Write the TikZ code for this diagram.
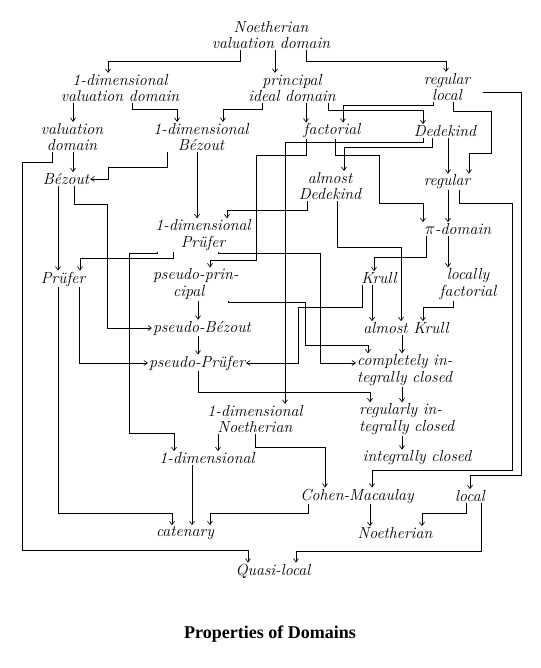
\documentclass[tikz,border=0pt]{standalone}
\usepackage{fontspec}
\newfontfamily\capfont{Liberation Serif}
\usetikzlibrary{arrows.meta}
\begin{document}
\begin{tikzpicture}[x=1pt,y=-1pt,
  lab/.style={font=\itshape\fontsize{16}{16.5}\selectfont, align=center, inner sep=1pt},
  conn/.style={line width=0.65pt, -{Straight Barb[length=3.5pt,width=5pt]}}]
\useasboundingbox[fill=white] (0,0) rectangle (540,668);
% nodes
\node[lab] (nvd) at (271,35) {Noetherian\\valuation domain};
\node[lab] (dvd) at (120,88) {1-dimensional\\valuation domain};
\node[lab] (pid) at (292,88) {principal\\ideal domain};
\node[lab] (rl) at (447,87) {regular\\local};
\node[lab] (vd) at (72,137) {valuation\\domain};
\node[lab] (db) at (201,137) {1-dimensional\\Bézout};
\node[lab] (fac) at (332,131) {factorial};
\node[lab] (ded) at (445,131) {Dedekind};
\node[lab] (bez) at (66,179) {Bézout};
\node[lab] (ad) at (330,186) {almost\\Dedekind};
\node[lab] (reg) at (447,182) {regular};
\node[lab] (dp) at (203,235) {1-dimensional\\Prüfer};
\node[lab] (pi) at (458,229) {$\pi$-domain};
\node[lab] (pru) at (63,279) {Prüfer};
\node[lab,align=left,anchor=west] (pp) at (152,284) {pseudo-prin-\\\hspace*{20pt}cipal};
\node[lab] (krull) at (379,278) {Krull};
\node[lab] (lf) at (468,284) {locally\\factorial};
\node[lab] (pb) at (202,328) {pseudo-Bézout};
\node[lab] (ak) at (406,328) {almost Krull};
\node[lab] (ppr) at (197,363) {pseudo-Prüfer};
\node[lab,align=left,anchor=west] (cic) at (356,370) {completely in-\\tegrally closed};
\node[lab] (dn) at (255,419) {1-dimensional\\Noetherian};
\node[lab,align=left,anchor=west] (ric) at (358,419) {regularly in-\\tegrally closed};
\node[lab] (one) at (207,458) {1-dimensional};
\node[lab] (ic) at (417,458) {integrally closed};
\node[lab] (cm) at (357,496) {Cohen-Macaulay};
\node[lab] (loc) at (470,496) {local};
\node[lab] (cat) at (185,533) {catenary};
\node[lab] (noe) at (395,533) {Noetherian};
\node[lab] (ql) at (273,571) {Quasi-local};
\node (cap) at (270,634) {\capfont\bfseries\fontsize{18}{20}\selectfont Properties of Domains};
% connectors
\draw[conn] (240,0 |- nvd.south) |- (108,61) -- (108,0 |- dvd.north);
\draw[conn] (275,0 |- nvd.south) -- (275,0 |- pid.north);
\draw[conn] (306,0 |- nvd.south) |- (446,61) -- (446,0 |- rl.north);
\draw[conn] (73,0 |- dvd.south) -- (73,0 |- vd.north);
\draw[conn] (132,0 |- dvd.south) |- (177,109) -- (177,0 |- db.north);
\draw[conn] (262,0 |- pid.south) |- (223,109) -- (223,0 |- db.north);
\draw[conn] (306,0 |- pid.south) -- (306,0 |- fac.north);
\draw[conn] (328,0 |- pid.south) |- (423,110) -- (423,0 |- ded.north);
\draw[conn] (433,0 |- rl.south) |- (343,105) -- (343,0 |- fac.north);
\draw[conn] (453,0 |- rl.south) |- (491,111) |- (469,153) -- (469,0 |- reg.north);
\draw[conn] ([shift={(12,5)}]rl.east) -| (521,475) -| (470,0 |- loc.north);
\draw[conn] (448,0 |- ded.south) -- (448,0 |- reg.north);
\draw[conn] (423,0 |- ded.south) |- (285,142) -- (285,0 |- dn.north);
\draw[conn] (432,0 |- ded.south) |- (344,147) -- (344,0 |- ad.north);
\draw[conn] (306,0 |- fac.south) |- (256,155) |- (210,260) -- (210,0 |- pp.north);
\draw[conn] (335,0 |- fac.south) |- (379,155) |- (423,203) -- (423,0 |- pi.north);
\draw[conn] (307,0 |- ad.south) |- (227,210) -- (227,0 |- dp.north);
\draw[conn] (337,0 |- ad.south) |- (401,247) -- (401,0 |- ak.north);
\draw[conn] (448,0 |- reg.south) -- (448,0 |- pi.north);
\draw[conn] (459,0 |- reg.south) |- (512,203) |- (372,470) -- (372,0 |- cm.north);
\draw[conn] (426,0 |- pi.south) |- (374,257) -- (374,0 |- krull.north);
\draw[conn] (448,0 |- pi.south) -- (448,0 |- lf.north);
\draw[conn] (73,0 |- vd.south) -- (73,0 |- bez.north);
\draw[conn] (52,0 |- vd.south) |- (22,162) |- (248,550) -- (248,0 |- ql.north);
\draw[conn] (167,0 |- db.south) |- (108,167) |- (bez.east);
\draw[conn] (197,0 |- db.south) -- (197,0 |- dp.north);
\draw[conn] (58,0 |- bez.south) -- (58,0 |- pru.north);
\draw[conn] (74,0 |- bez.south) |- (107,204) |- (pb.west);
\draw[conn] (173,0 |- dp.south) |- (80,258) -- (80,0 |- pru.north);
\draw[conn] (157,0 |- dp.south) |- (129,253) |- (174,433) -- (174,0 |- one.north);
\draw[conn] (218,0 |- dp.south) |- (320,253) |- (cic.west |- 0,363);
\draw[conn] (79,0 |- pru.south) |- (ppr.west);
\draw[conn] (58,0 |- pru.south) |- (172,513) -- (172,0 |- cat.north);
\draw[conn] (198,0 |- pp.south) -- (198,0 |- pb.north);
\draw[conn] (228,0 |- pp.south) |- (305,302) |- (368,345) -- (368,0 |- cic.north);
\draw[conn] (372,0 |- krull.south) -- (372,0 |- ak.north);
\draw[conn] (362,0 |- krull.south) |- (298,307) |- (ppr.east);
\draw[conn] (453,0 |- lf.south) |- (423,307) -- (423,0 |- ak.north);
\draw[conn] (198,0 |- pb.south) -- (198,0 |- ppr.north);
\draw[conn] (402,0 |- ak.south) -- (402,0 |- cic.north);
\draw[conn] (198,0 |- ppr.south) |- (370,392) -- (370,0 |- ric.north);
\draw[conn] (402,0 |- cic.south) -- (402,0 |- ric.north);
\draw[conn] (402,0 |- ric.south) -- (402,0 |- ic.north);
\draw[conn] (218,0 |- dn.south) -- (218,0 |- one.north);
\draw[conn] (255,0 |- dn.south) |- (325,447) -- (325,0 |- cm.north);
\draw[conn] (192,0 |- one.south) -- (192,0 |- cat.north);
\draw[conn] (308,0 |- cm.south) |- (210,513) -- (210,0 |- cat.north);
\draw[conn] (370,0 |- cm.south) -- (370,0 |- noe.north);
\draw[conn] (466,0 |- loc.south) |- (422,513) -- (422,0 |- noe.north);
\draw[conn] (481,0 |- loc.south) |- (296,551) -- (296,0 |- ql.north);
\end{tikzpicture}
\end{document}
